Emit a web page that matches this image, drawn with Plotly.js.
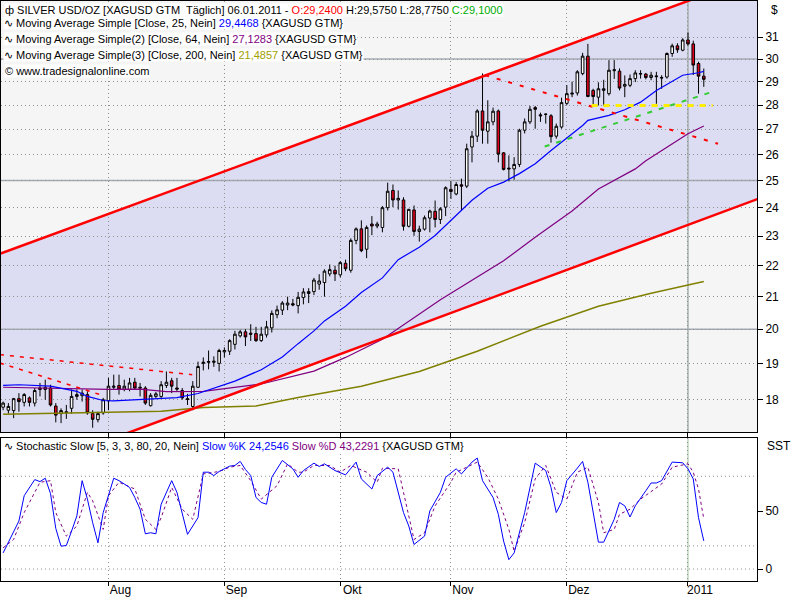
<!DOCTYPE html>
<html>
<head>
<meta charset="utf-8">
<script src="https://cdn.plot.ly/plotly-3.0.1.min.js"></script>
<style>
html, body { margin: 0; padding: 0; background: #fff; }
#chart { width: 800px; height: 600px; }
</style>
</head>
<body>
<div id="chart"></div>
<script>
// trading days: index 0 = 05.07.2010 ... 133 = 06.01.2011
var opens = [17.79,17.71,17.70,18.02,17.92,18.04,17.90,18.31,18.27,18.31,17.82,17.62,17.67,17.76,18.08,18.10,18.13,17.62,17.46,17.64,
  17.96,18.33,18.38,18.28,18.27,18.47,18.33,18.31,17.83,18.08,18.08,18.38,18.51,18.31,18.24,18.02,17.81,18.33,19.00,19.03,
  19.03,19.00,19.33,19.35,19.55,19.80,19.92,19.88,19.87,19.66,19.83,20.04,20.44,20.58,20.74,20.78,20.72,20.97,21.10,21.16,
  21.40,21.45,21.73,21.85,21.70,22.08,21.85,22.85,23.25,22.55,23.42,23.35,23.30,24.00,24.63,24.28,24.28,23.34,23.92,23.16,
  23.24,23.63,23.87,23.58,24.02,24.67,24.50,24.84,24.79,26.29,26.72,27.75,26.92,27.30,27.75,26.06,25.47,25.44,25.61,26.96,
  27.30,27.89,27.59,27.62,27.55,26.72,27.09,28.07,28.46,28.51,29.35,30.13,28.62,28.33,28.62,28.48,29.48,29.46,28.80,28.84,
  29.13,29.33,29.33,29.18,29.25,29.18,29.20,30.25,30.60,30.40,30.87,30.69,29.80,29.24];
var highs = [17.94,17.90,18.04,18.17,18.17,18.08,18.31,18.45,18.54,18.40,17.90,17.76,17.85,18.27,18.27,18.27,18.22,17.71,17.67,18.04,
  18.59,18.68,18.68,18.54,18.59,18.59,18.45,18.36,18.17,18.20,18.50,18.77,18.59,18.59,18.31,18.15,18.50,19.05,19.17,19.37,
  19.20,19.42,19.46,19.70,19.95,19.98,20.00,20.15,20.07,20.07,20.25,20.57,20.72,20.86,21.00,20.93,21.15,21.27,21.27,21.60,
  21.72,21.88,22.04,22.00,22.15,22.20,22.92,23.30,23.55,23.37,23.70,23.50,24.06,24.92,24.85,24.63,24.38,23.96,24.08,23.36,
  23.72,23.93,24.26,24.02,24.78,24.97,24.94,25.07,26.42,26.93,27.82,29.36,28.20,27.89,27.81,26.09,25.96,25.89,27.02,27.44,
  27.96,27.96,27.68,27.64,27.62,27.23,28.31,28.85,29.00,29.50,30.28,30.69,28.69,28.97,29.08,29.95,29.95,29.58,29.27,29.31,
  29.50,29.50,29.38,29.43,29.43,29.28,30.30,30.70,30.72,30.95,31.22,30.84,29.88,29.575];
var lows = [17.71,17.62,17.50,17.67,17.81,17.81,17.81,18.08,17.99,17.81,17.39,17.37,17.48,17.62,17.99,17.94,17.59,17.25,17.39,17.59,
  17.71,18.27,18.13,18.22,18.22,18.27,18.08,17.85,17.81,18.04,18.04,18.31,18.17,18.22,17.99,17.85,17.71,18.31,18.80,18.83,
  18.90,18.77,19.17,19.24,19.40,19.75,19.50,19.65,19.62,19.62,19.75,19.90,20.33,20.43,20.58,20.70,20.48,20.76,20.80,21.05,
  21.22,21.00,21.65,21.50,21.62,21.82,21.77,22.72,22.45,22.25,23.03,23.27,23.13,23.90,24.02,23.93,23.19,23.30,23.01,22.81,
  23.19,23.13,23.30,23.42,23.70,24.32,24.45,23.90,24.72,25.69,26.49,26.42,26.42,27.16,25.69,25.38,24.97,25.03,25.51,26.83,
  27.21,27.02,27.30,27.23,26.46,26.62,27.02,28.00,28.33,28.40,29.28,28.33,27.98,27.98,27.98,28.40,29.12,28.62,28.33,28.76,
  28.98,29.13,29.10,29.06,28.05,28.69,29.13,30.10,30.28,30.35,30.61,29.29,28.48,28.775];
var closes = [17.90,17.81,18.02,17.94,18.13,17.92,18.24,18.27,18.33,17.85,17.58,17.70,17.65,18.08,18.13,18.17,17.64,17.47,17.62,17.99,
  18.36,18.36,18.28,18.36,18.45,18.31,18.31,17.90,18.11,18.15,18.40,18.47,18.36,18.28,18.04,18.00,18.36,18.91,19.03,19.05,
  19.06,19.37,19.37,19.66,19.85,19.92,19.77,19.85,19.66,19.85,20.07,20.48,20.59,20.80,20.80,20.74,20.98,21.15,21.16,21.53,
  21.50,21.82,21.87,21.73,22.10,21.90,22.85,23.25,22.50,23.30,23.35,23.42,24.00,24.60,24.28,24.34,23.34,23.94,23.16,23.24,
  23.64,23.88,23.58,23.96,24.73,24.59,24.85,24.79,26.22,26.72,27.75,26.96,27.30,27.74,26.01,25.42,25.44,25.61,26.96,27.30,
  27.82,27.82,27.55,27.61,26.70,27.12,28.10,28.48,28.50,29.43,30.13,28.36,28.36,28.69,28.69,29.50,29.52,28.72,28.88,29.13,
  29.38,29.35,29.18,29.28,29.22,29.16,30.25,30.60,30.42,30.87,30.69,29.73,29.24,29.10];

// moving averages (day index, value)
var ma25Idx = [0,3,9,12,14,16,19,21,25,29,33,37,44,49,53,56,59,61,65,68,72,75,79,82,85,89,92,95,98,101,104,108,110,111,115,118,121,124,127,129,132,133];
var ma25Val = [18.38,18.40,18.36,18.28,18.22,18.08,17.97,17.96,17.99,18.04,18.05,18.16,18.50,18.82,19.18,19.57,19.95,20.25,20.70,21.13,21.60,22.20,22.62,23.02,23.54,24.27,24.71,24.94,25.26,25.64,26.15,26.81,27.15,27.36,27.57,27.80,28.12,28.62,29.03,29.28,29.39,29.4468];
var ma64Idx = [0,8,16,20,26,31,38,49,59,65,72,83,95,101,108,113,120,122,126,130,133];
var ma64Val = [18.33,18.31,18.30,18.27,18.28,18.21,18.22,18.42,18.78,19.17,19.70,20.90,22.16,22.96,23.88,24.68,25.44,25.75,26.28,26.82,27.1283];
var ma200Idx = [0,12,22,30,38,48,56,68,79,90,102,113,123,133];
var ma200Val = [17.60,17.63,17.65,17.68,17.78,17.82,18.05,18.36,18.77,19.35,20.09,20.70,21.11,21.4857];

// drawn trend lines (day index, price)
var chanX = [-1, 144];
var chanUpperY = [22.37, 34.09];
var chanLowerY = [15.92, 24.37];
var redTrendX = [91.5, 135.7], redTrendY = [29.28, 26.42];
var oldRedAX = [-0.6, 35.9], oldRedAY = [19.25, 18.68];
var oldRedBX = [-0.6, 18.4], oldRedBY = [19.01, 18.13];
var greenX = [102.8, 134.5], greenY = [26.31, 28.55];
var yellowX = [111.7, 134.7], yellowY = [27.98, 27.98];

// stochastic slow %K / %D
var kIdx = [0,3,4,6,7,8,9,10,11,12,13,14,15,16,17,18,19,21,22,24,25,26,27,28,29,30,32,33,35,37,38,39,40,41,43,44,45,46,47,48,49,50,51,53,55,56,57,59,60,61,63,65,67,68,70,71,73,74,76,77,78,80,81,83,84,86,87,89,90,91,93,94,95,96,97,99,101,103,104,105,106,107,109,110,111,112,113,114,116,117,118,119,120,122,123,124,125,127,128,129,130,131,132,133];
var kVal = [13.9,41.4,63.2,77.1,75.4,78.3,65,35,19.7,20.3,32.8,45.8,76.2,60.3,40,22.6,48.7,78.3,76.2,70.4,61.7,51.6,30.4,31.3,30.4,55.9,76.2,66.1,29.9,44.3,83.5,83.5,80.6,84.1,88.7,89.3,92.8,85.8,80.6,61.7,57.4,55.9,79.1,93.6,86.4,79.1,84.9,91.3,88.4,90.7,84.9,81.2,92.2,77.7,69.0,80.6,87.8,83.5,48.7,37.1,21.2,28.4,50.1,66.1,79.1,86.4,82.0,92.2,95.7,76.2,61.7,47.2,24.1,8.1,13.9,48.7,91.3,84.9,70.4,48.7,57.4,76.2,87.0,92.8,74.8,47.2,23.2,23.2,42.9,57.4,54.5,44.9,54.5,67.5,74.2,74.2,76.2,92.2,91.6,91.6,86.4,77.7,44.3,24.2546];
var dIdx = [0,2,4,7,9,10,12,14,16,17,19,20,22,25,27,29,30,32,34,36,38,41,43,45,47,49,52,54,56,57,59,62,64,66,69,71,72,75,76,78,80,82,85,86,88,90,92,94,96,97,99,101,103,105,107,109,111,113,114,116,117,119,121,124,125,127,130,131,132,133];
var dVal = [18.3,25.5,48.7,74.8,76.2,48.7,28.4,37.1,66.1,58.8,34.2,63.2,74.8,69.0,42.9,34.2,44.3,70.4,51.6,42.9,82.0,84.1,87.8,89.3,76.2,60.3,71.9,90.7,83.5,83.5,89.3,89.3,83.5,89.3,83.5,74.8,86.9,86.4,66.1,25.5,31.3,54.5,74.8,83.5,87.8,92.2,79.1,60.3,34.2,15.4,40,77.7,89.3,66.1,60.3,83.5,87.8,57.4,31.3,34.2,47.2,51.6,60.3,70.4,73.3,87.8,90.7,83.5,69.0,43.2291];

var monthIdx = [20, 42, 64, 85, 107, 130];
var monthLabels = ['Aug', 'Sep', 'Okt', 'Nov', 'Dez', '2011'];
var priceTicks = [18,19,20,21,22,23,24,25,26,27,28,29,30,31];
var solidLevels = [20, 25, 30];
var stochLevels = [0, 20, 80];
var stochTicks = [0, 50];

var xRange = [-0.4, 143.1];
var priceRange = [17.14, 32.73];
var stochRange = [-10.3, 113];

var dayIdx = opens.map(function(v, i) { return i; });

// pixel -> paper helpers for texts
function px(x) { return (x - 1) / 756; }
function py(y) { return (581 - y) / 580; }

var traces = [
  {type: 'candlestick', x: dayIdx, open: opens, high: highs, low: lows, close: closes,
   increasing: {line: {color: '#000', width: 1}, fillcolor: '#ffffff'},
   decreasing: {line: {color: '#000', width: 1}, fillcolor: '#e0001b'},
   whiskerwidth: 0, hoverinfo: 'skip', xaxis: 'x', yaxis: 'y'},
  {type: 'scatter', mode: 'lines', x: ma200Idx, y: ma200Val, line: {color: '#808000', width: 1.5}, xaxis: 'x', yaxis: 'y'},
  {type: 'scatter', mode: 'lines', x: ma64Idx, y: ma64Val, line: {color: '#800080', width: 1.2}, xaxis: 'x', yaxis: 'y'},
  {type: 'scatter', mode: 'lines', x: ma25Idx, y: ma25Val, line: {color: '#0000ff', width: 1.2}, xaxis: 'x', yaxis: 'y'},
  {type: 'scatter', mode: 'lines', x: chanX, y: chanUpperY, line: {color: '#ff0000', width: 2.5}, xaxis: 'x', yaxis: 'y'},
  {type: 'scatter', mode: 'lines', x: chanX, y: chanLowerY, line: {color: '#ff0000', width: 2.5}, xaxis: 'x', yaxis: 'y'},
  {type: 'scatter', mode: 'lines', x: redTrendX, y: redTrendY, line: {color: '#ff0000', width: 2, dash: '4px,8px'}, xaxis: 'x', yaxis: 'y'},
  {type: 'scatter', mode: 'lines', x: oldRedAX, y: oldRedAY, line: {color: '#ff0000', width: 1.5, dash: '4px,6px'}, xaxis: 'x', yaxis: 'y'},
  {type: 'scatter', mode: 'lines', x: oldRedBX, y: oldRedBY, line: {color: '#ff0000', width: 1.5, dash: '4px,6px'}, xaxis: 'x', yaxis: 'y'},
  {type: 'scatter', mode: 'lines', x: greenX, y: greenY, line: {color: '#33cc33', width: 2, dash: '5px,7px'}, xaxis: 'x', yaxis: 'y'},
  {type: 'scatter', mode: 'lines', x: yellowX, y: yellowY, line: {color: '#ffee00', width: 3, dash: '6px,6px'}, xaxis: 'x', yaxis: 'y'},
  {type: 'scatter', mode: 'lines', x: dIdx, y: dVal, line: {color: '#800080', width: 1, dash: '3px,3px'}, xaxis: 'x', yaxis: 'y2'},
  {type: 'scatter', mode: 'lines', x: kIdx, y: kVal, line: {color: '#0000ff', width: 1}, xaxis: 'x', yaxis: 'y2'}
];

var shapes = [
  {type: 'rect', xref: 'x domain', yref: 'y domain', x0: 0, x1: 1, y0: 0, y1: 1,
   fillcolor: '#f5f5f5', line: {width: 0}, layer: 'below'},
  {type: 'path', xref: 'x', yref: 'y', layer: 'below', fillcolor: '#dcdcf2', line: {width: 0},
   path: 'M ' + chanX[0] + ',' + chanUpperY[0] + ' L ' + chanX[1] + ',' + chanUpperY[1] +
         ' L ' + chanX[1] + ',' + chanLowerY[1] + ' L ' + chanX[0] + ',' + chanLowerY[0] + ' Z'}
];
solidLevels.forEach(function(v) {
  shapes.push({type: 'line', xref: 'x', yref: 'y', x0: xRange[0], x1: xRange[1], y0: v, y1: v,
    line: {color: '#a4acb4', width: 1.5}, layer: 'below'});
});
stochLevels.forEach(function(v) {
  shapes.push({type: 'line', xref: 'x', yref: 'y2', x0: xRange[0], x1: xRange[1], y0: v, y1: v,
    line: {color: '#909090', width: 1, dash: '1px,3px'}, layer: 'below'});
});
var yearIdx = monthIdx[monthIdx.length - 1];
shapes.push({type: 'line', xref: 'x', yref: 'y', x0: yearIdx, x1: yearIdx, y0: priceRange[0], y1: priceRange[1],
  line: {color: '#a4b0b0', width: 1.5}, layer: 'below'});
shapes.push({type: 'line', xref: 'x', yref: 'y2', x0: yearIdx, x1: yearIdx, y0: stochRange[0], y1: stochRange[1],
  line: {color: '#9cc09c', width: 1}, layer: 'below'});

var hdr = {size: 11, color: '#000'};
function note(txt, x, y) {
  return {text: txt, xref: 'paper', yref: 'paper', x: px(x), y: py(y), xanchor: 'left', yanchor: 'middle',
    showarrow: false, bgcolor: '#ffffff', borderpad: 0, font: hdr};
}
var annotations = [
  note('ф SILVER USD/OZ [XAGUSD GTM  Täglich] 06.01.2011 - <span style="color:#ff0000">O:29,2400</span> H:29,5750 L:28,7750 <span style="color:#00aa00">C:29,1000</span>', 4, 10),
  note('∿ Moving Average Simple [Close, 25, Nein] <span style="color:#0000ff">29,4468</span> {XAGUSD GTM}', 3, 23),
  note('∿ Moving Average Simple(2) [Close, 64, Nein] <span style="color:#800080">27,1283</span> {XAGUSD GTM}', 3, 39),
  note('∿ Moving Average Simple(3) [Close, 200, Nein] <span style="color:#a0a000">21,4857</span> {XAGUSD GTM}', 3, 55),
  note('© www.tradesignalonline.com', 4, 71),
  note('∿ Stochastic Slow [5, 3, 3, 80, 20, Nein] <span style="color:#0000ff">Slow %K 24,2546</span> <span style="color:#800080">Slow %D 43,2291</span> {XAGUSD GTM}', 3, 446),
  {text: '$', xref: 'paper', yref: 'paper', x: px(769), y: py(10), xanchor: 'left', yanchor: 'middle', showarrow: false, font: {size: 12, color: '#000'}},
  {text: 'SST', xref: 'paper', yref: 'paper', x: px(765), y: py(446), xanchor: 'left', yanchor: 'middle', showarrow: false, font: {size: 12, color: '#000'}}
];

var layout = {
  width: 800, height: 600,
  margin: {l: 1, r: 43, t: 1, b: 19, pad: 0},
  paper_bgcolor: '#ffffff',
  plot_bgcolor: '#ffffff',
  showlegend: false,
  hovermode: false,
  font: {family: 'Liberation Sans, Arial, sans-serif', size: 12, color: '#000'},
  xaxis: {
    range: xRange, anchor: 'y2',
    tickmode: 'array', tickvals: monthIdx, ticktext: monthLabels,
    ticks: 'outside', ticklen: 4, tickcolor: '#000', ticklabelshift: 12, ticklabelstandoff: -6,
    showgrid: true, griddash: '1px,3px', gridcolor: '#909090', gridwidth: 1,
    showline: true, linecolor: '#000', linewidth: 1, mirror: 'all', zeroline: false,
    rangeslider: {visible: false}
  },
  yaxis: {
    domain: [0.2569, 1], type: 'log', range: priceRange.map(Math.log10), side: 'right', anchor: 'x',
    tickmode: 'array', tickvals: priceTicks, ticktext: priceTicks.map(String),
    ticks: 'outside', ticklen: 5, tickcolor: '#000',
    showgrid: true, griddash: '1px,3px', gridcolor: '#909090',
    showline: true, linecolor: '#000', mirror: true, zeroline: false
  },
  yaxis2: {
    domain: [0, 0.2466], range: stochRange, side: 'right', anchor: 'x',
    tickmode: 'array', tickvals: stochTicks, ticktext: stochTicks.map(String),
    ticks: 'outside', ticklen: 5, tickcolor: '#000',
    showgrid: false, showline: true, linecolor: '#000', mirror: true, zeroline: false
  },
  shapes: shapes,
  annotations: annotations
};

Plotly.newPlot('chart', traces, layout, {staticPlot: true});
</script>
</body>
</html>
